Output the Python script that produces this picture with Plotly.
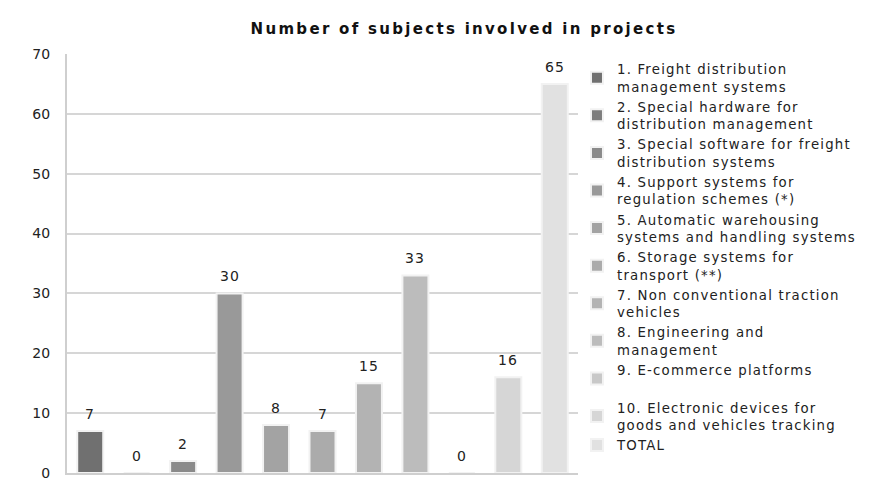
import plotly.graph_objects as go

categories = [
    "1. Freight distribution<br>management systems",
    "2. Special hardware for<br>distribution management",
    "3. Special software for freight<br>distribution systems",
    "4. Support systems for<br>regulation schemes (*)",
    "5. Automatic warehousing<br>systems and handling systems",
    "6. Storage systems for<br>transport (**)",
    "7. Non conventional traction<br>vehicles",
    "8. Engineering and<br>management",
    "9. E-commerce platforms<br>&nbsp;",
    "10. Electronic devices for<br>goods and vehicles tracking",
    "TOTAL",
]
values = [7, 0, 2, 30, 8, 7, 15, 33, 0, 16, 65]
colors = ["#707070", "#7d7d7d", "#8a8a8a", "#999999", "#a3a3a3", "#ababab",
          "#b3b3b3", "#bcbcbc", "#c8c8c8", "#d6d6d6", "#e1e1e1"]
title = "Number of subjects involved in projects"

FONT = "DejaVu Sans, Liberation Sans, Arial, sans-serif"


def spaced(s, px):
    return "<br>".join(
        '<span style="letter-spacing:%.1fpx">%s</span>' % (px, part)
        for part in s.split("<br>"))


fig = go.Figure()
for i, (name, v, c) in enumerate(zip(categories, values, colors)):
    fig.add_trace(go.Bar(
        x=[i], y=[v], name=spaced(name, 1.2),
        marker=dict(color=c, line=dict(color="#f2f2f2", width=2)),
        width=0.56,
    ))
    fig.add_annotation(
        x=i, y=v, xref="x", yref="y", text=spaced(str(v), 1.0),
        showarrow=False, yanchor="bottom", yshift=7,
        font=dict(size=14, color="#222222", family=FONT),
    )

fig.update_layout(
    width=893, height=482,
    margin=dict(l=67, r=315, t=54, b=9, autoexpand=False),
    paper_bgcolor="white", plot_bgcolor="white",
    barmode="overlay",
    title=dict(text="<b>" + spaced(title, 2.3) + "</b>", x=464 / 893,
               xanchor="center", y=1 - 29 / 482, yanchor="middle",
               font=dict(size=15, color="#111111", family=FONT)),
    showlegend=True,
    legend=dict(x=0.998, xanchor="left", y=1.0, yanchor="top",
                font=dict(size=13.3, color="#222222", family=FONT),
                traceorder="normal", bgcolor="rgba(0,0,0,0)"),
    font=dict(family=FONT),
)
fig.update_xaxes(range=[-0.5, 10.5], showticklabels=False, showgrid=False,
                 zeroline=False, showline=True, linecolor="#cfcfcf", linewidth=2,
                 ticks="", automargin=False)
fig.update_yaxes(range=[0, 70], dtick=10, showgrid=True, gridcolor="#d6d6d6",
                 gridwidth=1.5, zeroline=False, showline=True, linecolor="#cfcfcf",
                 linewidth=2, ticks="", ticklabelstandoff=12,
                 ticklabeloverflow="allow", automargin=False,
                 tickfont=dict(size=14, color="#222222", family=FONT))

fig.write_html("out.html")
